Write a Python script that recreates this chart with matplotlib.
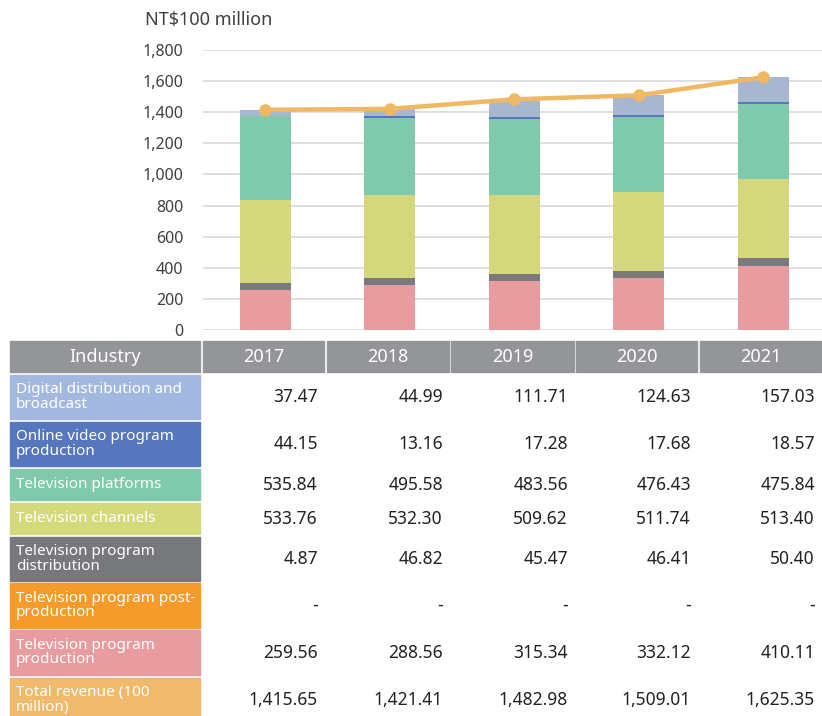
import numpy as np
import matplotlib.pyplot as plt
from matplotlib.patches import Rectangle

plt.rcParams['font.family'] = ['Noto Sans', 'DejaVu Sans']

# Data (NT$100 million)
years = ['2017', '2018', '2019', '2020', '2021']
production = [259.56, 288.56, 315.34, 332.12, 410.11]
distribution_bar = [44.15, 46.82, 45.47, 46.41, 50.40]   # bars as drawn in the chart
post_production = [0, 0, 0, 0, 0]
channels = [533.76, 532.30, 509.62, 511.74, 513.40]
platforms = [535.84, 495.58, 483.56, 476.43, 475.84]
online_bar = [4.87, 13.16, 17.28, 17.68, 18.57]
digital = [37.47, 44.99, 111.71, 124.63, 157.03]
total = [1415.65, 1421.41, 1482.98, 1509.01, 1625.35]

# values as printed in the table
row_labels = ['Digital distribution and\nbroadcast', 'Online video program\nproduction',
              'Television platforms', 'Television channels',
              'Television program\ndistribution', 'Television program post-\nproduction',
              'Television program\nproduction', 'Total revenue (100\nmillion)']
table_digital = ['37.47', '44.99', '111.71', '124.63', '157.03']
table_online = ['44.15', '13.16', '17.28', '17.68', '18.57']
table_platforms = ['535.84', '495.58', '483.56', '476.43', '475.84']
table_channels = ['533.76', '532.30', '509.62', '511.74', '513.40']
table_distribution = ['4.87', '46.82', '45.47', '46.41', '50.40']
table_post = ['-', '-', '-', '-', '-']
table_production = ['259.56', '288.56', '315.34', '332.12', '410.11']
table_total = ['1,415.65', '1,421.41', '1,482.98', '1,509.01', '1,625.35']

W, H = 822, 716
fig = plt.figure(figsize=(W / 100, H / 100), dpi=100)

# ---- chart ----
ax = fig.add_axes([203 / W, 1 - 330 / H, (W - 203) / W, 280 / H])
x = np.arange(len(years))
bw = 0.41
series = [(production, '#e89ca0'), (distribution_bar, '#7a7a7e'),
          (post_production, '#f59b2a'), (channels, '#d4d77c'),
          (platforms, '#7fcaad'), (online_bar, '#5677bf'), (digital, '#a6b7cf')]
bottom = np.zeros(len(years))
for vals, col in series:
    ax.bar(x, vals, bw, bottom=bottom, color=col, zorder=2)
    bottom += np.array(vals)
ax.plot(x, total, color='#f0b862', lw=3.2, marker='o', ms=8, zorder=3)

ax.set_ylim(0, 1800)
ax.set_yticks(range(0, 1801, 200))
ax.set_yticklabels([f'{v:,}' for v in range(0, 1801, 200)], fontsize=11.5, color='#404040')
ax.set_xlim(-0.5, 4.47)
ax.set_xticks([])
ax.grid(axis='y', color='#d9d9d9', lw=1.2, zorder=0)
ax.tick_params(axis='y', length=0, pad=14)
for s in ax.spines.values():
    s.set_visible(False)
fig.text(145 / W, 1 - 20 / H, 'NT$100 million', fontsize=13, color='#404040', va='center')

# ---- table ----
tb = fig.add_axes([0, 0, 1, 1])
tb.set_xlim(0, W)
tb.set_ylim(H, 0)
tb.axis('off')

col_edges = [(10, 200), (203, 324), (327, 449), (451, 574), (576, 697), (700, 821)]
tb.add_patch(Rectangle((10, 341), 190, 31, color='#939598'))
tb.text(105, 356.5, 'Industry', color='white', fontsize=13, ha='center', va='center')
for (x0, x1), yr in zip(col_edges[1:], years):
    tb.add_patch(Rectangle((x0, 341), x1 - x0, 31, color='#939598'))
    tb.text((x0 + x1) / 2, 356.5, yr, color='white', fontsize=13, ha='center', va='center')

row_spans = [(375, 419), (422, 466), (469, 500), (503, 534),
             (537, 581), (583, 628), (630, 675), (678, 722)]
row_colors = ['#a3b8df', '#5676be', '#7fcaad', '#d4d97c',
              '#77787b', '#f59b2a', '#e89ca0', '#f0b96b']
table_rows = [table_digital, table_online, table_platforms, table_channels,
              table_distribution, table_post, table_production, table_total]
for (y0, y1), lab, col, vals in zip(row_spans, row_labels, row_colors, table_rows):
    tb.add_patch(Rectangle((10, y0), 190, y1 - y0, color=col))
    tb.text(16, (y0 + y1) / 2, lab, color='white', fontsize=11, ha='left',
            va='center', linespacing=0.92)
    for (x0, x1), v in zip(col_edges[1:], vals):
        tb.text(x1 - 6, (y0 + y1) / 2, v, color='#222222', fontsize=12.5,
                ha='right', va='center')

fig.savefig('out.png', dpi=100)
